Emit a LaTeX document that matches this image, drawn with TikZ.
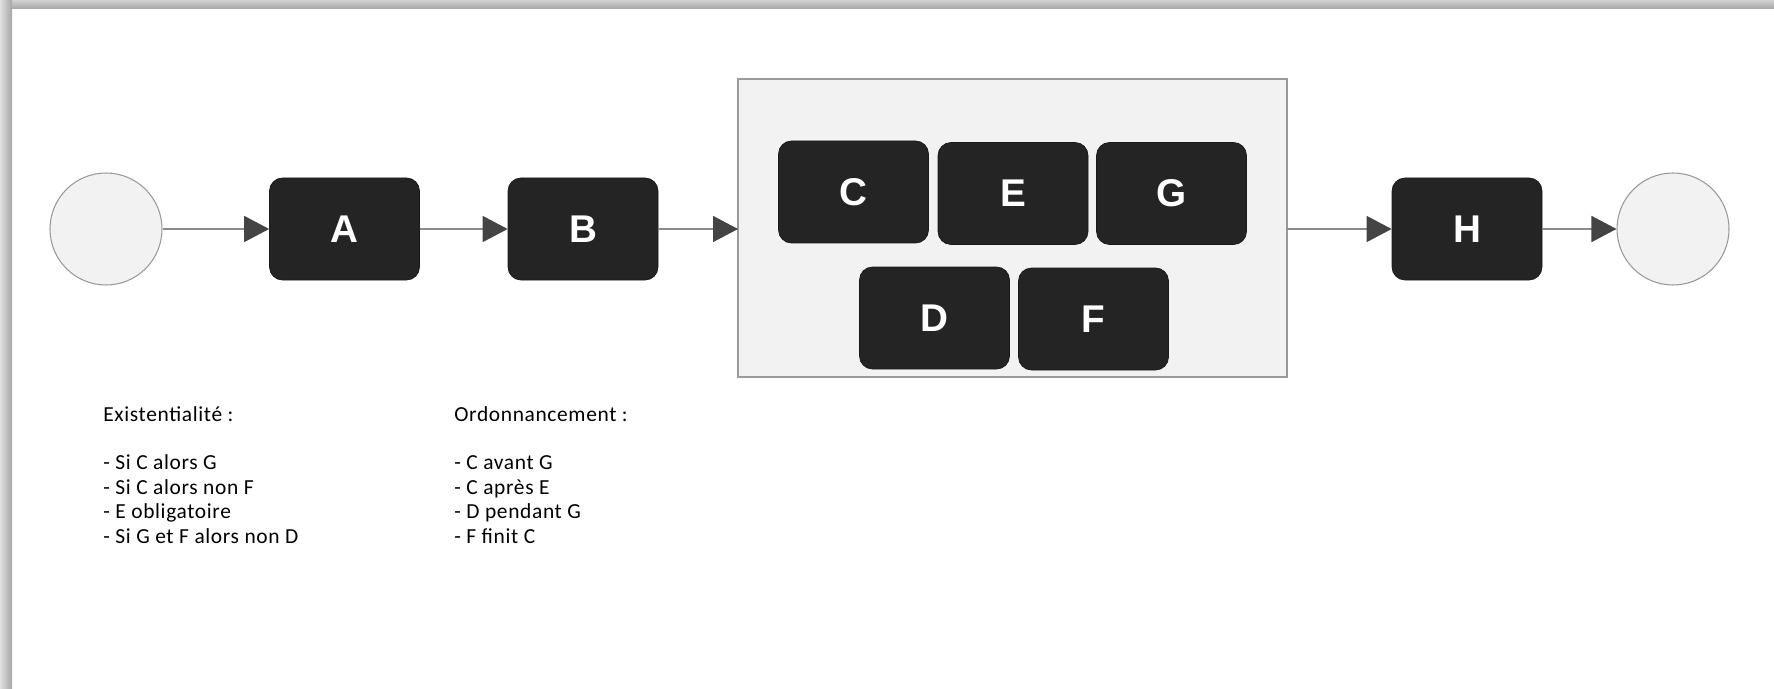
\documentclass[tikz,border=0pt]{standalone}
\usepackage{fontspec}
\setmainfont{Carlito}[LetterSpace=3]
\newfontfamily\lettrefont{Liberation Sans}
\usepackage{tikz}
\usetikzlibrary{arrows.meta}

\definecolor{fondnoir}{HTML}{242424}
\definecolor{fondgris}{HTML}{F2F2F2}
\definecolor{traitgris}{HTML}{999999}
\definecolor{lignegris}{HTML}{8A8A8A}
\definecolor{pointe}{HTML}{444444}

\tikzset{
	tache/.style={draw=black!90, fill=fondnoir, rounded corners=0.26cm, minimum width=3cm, minimum height=2.04cm, text=white, font=\lettrefont\fontsize{22}{22}\selectfont\bfseries},
	etat/.style={circle, draw=traitgris, fill=fondgris, minimum size=2.24cm, line width=0.6pt},
	fleche/.style={draw=lignegris, line width=0.8pt, -{Triangle[length=0.5cm,width=0.52cm,color=pointe]}},
	regle/.style={anchor=north west, align=left, inner sep=0pt, font=\fontsize{12.2}{13.86}\selectfont}
}

\begin{document}
\begin{tikzpicture}
	\useasboundingbox (0,0) rectangle (35.48,13.76);
	%page shadow
	\shade[top color=black!18, bottom color=black!35] (0,13.58) rectangle (35.48,13.76);
	\shade[left color=black!12, right color=black!35] (0,0) rectangle (0.24,13.76);
	
	%group
	\draw[draw=traitgris, fill=fondgris, line width=0.6pt] (14.76,6.22) rectangle (25.74,12.18);
	\coordinate (grpin) at (14.76,9.18);
	\coordinate (grpout) at (25.74,9.18);
	
	%states
	\node[etat] (debut) at (2.12,9.18) {};
	\node[etat] (fin) at (33.46,9.18) {};
	
	%tasks
	\node[tache] (A) at (6.89,9.18) {A};
	\node[tache] (B) at (11.66,9.18) {B};
	\node[tache] (C) at (17.07,9.92) {C};
	\node[tache] (E) at (20.26,9.89) {E};
	\node[tache] (G) at (23.43,9.89) {G};
	\node[tache] (D) at (18.69,7.40) {D};
	\node[tache] (F) at (21.87,7.38) {F};
	\node[tache] (H) at (29.34,9.18) {H};
	
	%arrows
	\draw[fleche] (debut) -- (A);
	\draw[fleche] (A) -- (B);
	\draw[fleche] (B) -- (grpin);
	\draw[fleche] (grpout) -- (H);
	\draw[fleche] (H) -- (fin);
	
	%constraints
	\node[regle] (exist) at (2.06,5.64) {Existentialité :\\[13.86pt]- Si C alors G\\- Si C alors non F\\- E obligatoire\\- Si G et F alors non D};
	\node[regle] (ordo) at (9.08,5.64) {Ordonnancement :\\[13.86pt]- C avant G\\- C après E\\- D pendant G\\- F finit C};
\end{tikzpicture}
\end{document}
